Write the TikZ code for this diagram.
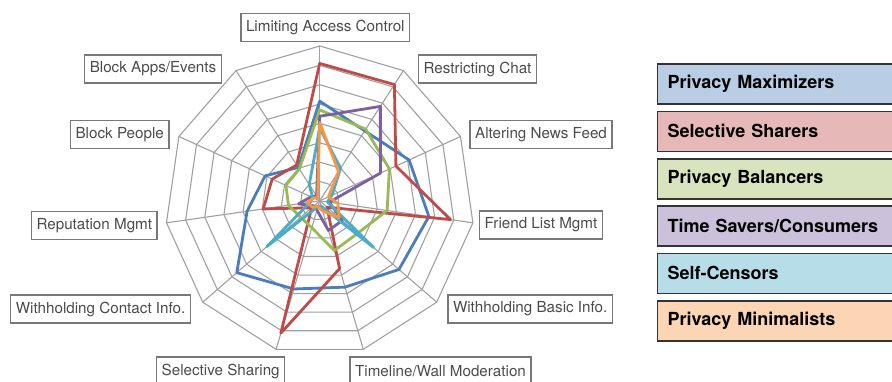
\documentclass[tikz,border=0pt]{standalone}
\usepackage{fontspec}
\setmainfont{TeX Gyre Heros}
\definecolor{gridc}{RGB}{160,160,160}
\definecolor{labtext}{RGB}{75,75,75}
\definecolor{labdraw}{RGB}{120,120,120}
\definecolor{cBlue}{RGB}{74,126,187}
\definecolor{cRed}{RGB}{190,75,72}
\definecolor{cGreen}{RGB}{152,185,84}
\definecolor{cPurple}{RGB}{125,96,160}
\definecolor{cCyan}{RGB}{75,172,198}
\definecolor{cOrange}{RGB}{247,150,70}
\definecolor{fBlue}{RGB}{185,205,229}
\definecolor{fRed}{RGB}{230,185,184}
\definecolor{fGreen}{RGB}{215,228,189}
\definecolor{fPurple}{RGB}{204,193,218}
\definecolor{fCyan}{RGB}{183,222,232}
\definecolor{fOrange}{RGB}{252,213,181}
\newcommand\radarseries[3]{%
  \foreach \v [count=\i from 0] in {#3} {
    \coordinate (#1\i) at ({\i*360/11-90}:{\v*19.35});
  }
  \draw[series,#2] (#10) \foreach \i in {1,...,10} { -- (#1\i) } -- cycle;
}
\begin{document}
\begin{tikzpicture}[x=1pt,y=-1pt,
  gridline/.style={draw=gridc,line width=1.1pt},
  axislabel/.style={draw=labdraw,line width=1.3pt,text=labtext,inner xsep=5pt,inner ysep=0pt,
    minimum height=28pt,font=\fontsize{15.2}{18}\selectfont},
  series/.style={line width=2.8pt,line join=round},
  legbox/.style={draw=black!80,line width=1.6pt,anchor=west,minimum height=40pt,
    text width=220pt,inner xsep=10pt,align=left,font=\bfseries\fontsize{18}{20}\selectfont}]
\useasboundingbox (0,0) rectangle (892,381);
\begin{scope}[shift={(319.7,200.8)}]
  \foreach \r in {1,...,8} {
    \draw[gridline] (-90:{\r*19.35}) \foreach \i in {1,...,10} { -- ({\i*360/11-90}:{\r*19.35}) } -- cycle;
  }
  \foreach \i in {0,...,10} {
    \draw[gridline] (0,0) -- ({\i*360/11-90}:{8*19.35});
  }
  \radarseries{pa}{cBlue}{5.15,4.3,5.08,5.7,5.42,4.65,4.75,5.67,3.79,3.1,2.05}
  \radarseries{pb}{cRed}{7.1,7.14,4.33,6.83,0.5,3.65,7.13,0.55,2.95,2.7,2.2}
  \radarseries{pc}{cGreen}{4.7,4.4,3.96,3.52,2.58,2.68,1.45,1.3,1.63,1.92,1.95}
  \radarseries{pd}{cPurple}{4.37,5.8,3.45,0.5,1.55,1.6,0.5,0.4,1.1,0.5,0.3}
  \radarseries{pe}{cCyan}{3.75,2.0,0.7,0.4,3.68,0.3,0.3,3.62,0.5,0.4,1.0}
  \radarseries{pf}{cOrange}{4.05,1.8,0.5,0.95,1.33,0.55,0.3,0.5,0.65,0.35,0.2}
\end{scope}
% axis labels
\node[axislabel] (lac) at (325.3,27.5) {Limiting Access Control};
\node[axislabel] (rc) at (477.5,69) {Restricting Chat};
\node[axislabel] (anf) at (541,134.5) {Altering News Feed};
\node[axislabel] (flm) at (541,225) {Friend List Mgmt};
\node[axislabel] (wbi) at (530.2,309) {Withholding Basic Info.};
\node[axislabel] (twm) at (440.5,371) {Timeline/Wall Moderation};
\node[axislabel] (ss) at (220.7,371) {Selective Sharing};
\node[axislabel] (wci) at (100.6,309) {Withholding Contact Info.};
\node[axislabel] (rm) at (94.3,225.5) {Reputation Mgmt};
\node[axislabel] (bp) at (119.7,134.5) {Block People};
\node[axislabel] (bae) at (153,69) {Block Apps/Events};
% legend
\node[legbox,fill=fBlue] (lg1) at (656.7,84) {Privacy Maximizers};
\node[legbox,fill=fRed] (lg2) at (656.7,131.3) {Selective Sharers};
\node[legbox,fill=fGreen] (lg3) at (656.7,178.7) {Privacy Balancers};
\node[legbox,fill=fPurple] (lg4) at (656.7,226) {Time Savers/Consumers};
\node[legbox,fill=fCyan] (lg5) at (656.7,273.3) {Self-Censors};
\node[legbox,fill=fOrange] (lg6) at (656.7,320.8) {Privacy Minimalists};
\end{tikzpicture}
\end{document}
